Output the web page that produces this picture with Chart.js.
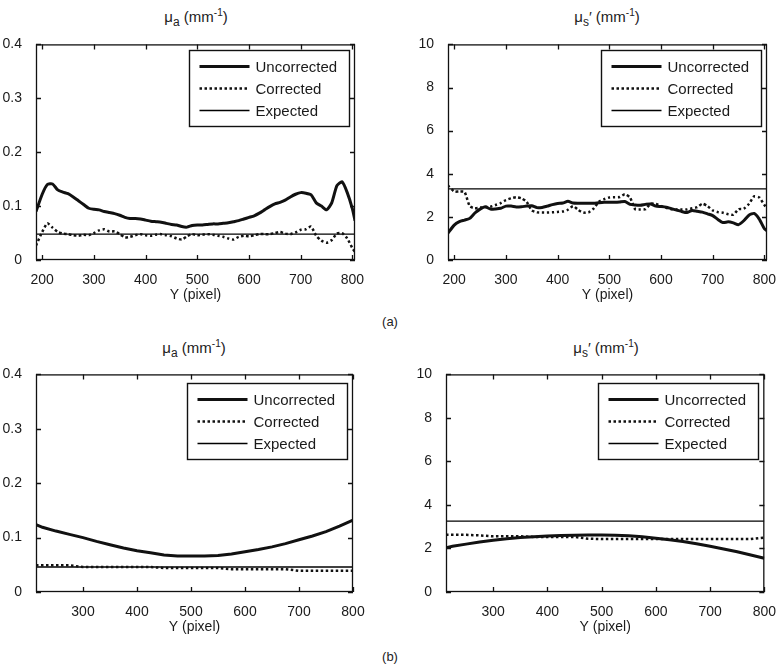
<!DOCTYPE html>
<html>
<head>
<meta charset="utf-8">
<script src="https://cdn.jsdelivr.net/npm/chart.js@4.4.1/dist/chart.umd.min.js"></script>
<style>
  body { margin: 0; background: #fff; width: 781px; height: 666px; overflow: hidden; position: relative;
         font-family: "Liberation Sans", Arial, sans-serif; color: #222; }
  .panel { position: absolute; }
  .ttl { position: absolute; font-size: 15px; line-height: 18px; transform: translateX(-50%); white-space: nowrap; }
  .ttl sub { font-size: 12px; vertical-align: -4px; line-height: 0; }
  .ttl sup { font-size: 10px; vertical-align: 6px; line-height: 0; }
  .tag { position: absolute; font-size: 13px; transform: translateX(-50%); }
</style>
</head>
<body>
<div class="ttl" style="left:196px;top:8px">&mu;<sub>a</sub> (mm<sup>-1</sup>)</div>
<div class="ttl" style="left:607px;top:8px">&mu;<sub>s</sub>&prime; (mm<sup>-1</sup>)</div>
<div class="ttl" style="left:194px;top:339px">&mu;<sub>a</sub> (mm<sup>-1</sup>)</div>
<div class="ttl" style="left:606px;top:339px">&mu;<sub>s</sub>&prime; (mm<sup>-1</sup>)</div>
<div class="tag" style="left:390px;top:314px">(a)</div>
<div class="tag" style="left:390px;top:649px">(b)</div>

<div class="panel" style="left:0;top:30px"><canvas id="aMua" width="371" height="274"></canvas></div>
<div class="panel" style="left:404px;top:30px"><canvas id="aMus" width="377" height="274"></canvas></div>
<div class="panel" style="left:0;top:360px"><canvas id="bMua" width="369" height="276"></canvas></div>
<div class="panel" style="left:404px;top:360px"><canvas id="bMus" width="376" height="276"></canvas></div>

<script>
// (a) measured profiles, Y pixel positions
const xTop = [188, 200, 210, 220, 230, 240, 250, 260, 270, 280, 290, 300, 310, 320, 330, 340, 350, 360, 370, 380,
  390, 400, 410, 420, 430, 440, 450, 460, 470, 480, 490, 500, 510, 520, 530, 540, 550, 560, 570, 580,
  590, 600, 610, 620, 630, 640, 650, 660, 670, 680, 690, 700, 710, 720, 730, 740, 750, 760, 770, 780,
  790, 800, 805];

const aMuaUnc = [0.090, 0.122, 0.140, 0.141, 0.130, 0.126, 0.123, 0.117, 0.110, 0.103, 0.096, 0.094, 0.093, 0.090, 0.088, 0.086, 0.083, 0.079, 0.077, 0.077,
  0.076, 0.074, 0.072, 0.071, 0.070, 0.068, 0.066, 0.065, 0.062, 0.061, 0.064, 0.065, 0.065, 0.066, 0.067, 0.067, 0.068, 0.069, 0.071, 0.073,
  0.076, 0.079, 0.082, 0.087, 0.093, 0.099, 0.104, 0.107, 0.111, 0.117, 0.122, 0.125, 0.124, 0.121, 0.106, 0.100, 0.093, 0.106, 0.138, 0.145,
  0.125, 0.095, 0.073];
const aMuaCor = [0.027, 0.052, 0.068, 0.060, 0.052, 0.049, 0.048, 0.046, 0.045, 0.047, 0.046, 0.050, 0.055, 0.057, 0.053, 0.053, 0.048, 0.042, 0.043, 0.046,
  0.048, 0.046, 0.045, 0.047, 0.048, 0.046, 0.044, 0.040, 0.038, 0.044, 0.048, 0.046, 0.047, 0.048, 0.047, 0.045, 0.043, 0.040, 0.038, 0.043,
  0.045, 0.044, 0.046, 0.048, 0.048, 0.048, 0.050, 0.052, 0.049, 0.048, 0.051, 0.056, 0.057, 0.062, 0.045, 0.036, 0.032, 0.037, 0.049, 0.050,
  0.040, 0.022, 0.015];
const aMusUnc = [1.25, 1.62, 1.78, 1.85, 1.93, 2.18, 2.36, 2.47, 2.36, 2.37, 2.40, 2.50, 2.50, 2.46, 2.47, 2.50, 2.52, 2.43, 2.44, 2.50,
  2.57, 2.62, 2.64, 2.72, 2.64, 2.63, 2.63, 2.63, 2.63, 2.66, 2.68, 2.68, 2.68, 2.69, 2.71, 2.58, 2.55, 2.54, 2.58, 2.60,
  2.50, 2.48, 2.45, 2.38, 2.32, 2.25, 2.20, 2.30, 2.26, 2.22, 2.14, 2.06, 1.88, 1.74, 1.77, 1.72, 1.64, 1.82, 2.08, 2.16,
  1.90, 1.45, 1.35];
const aMusCor = [3.45, 3.18, 3.18, 3.16, 2.50, 2.40, 2.43, 2.45, 2.47, 2.55, 2.64, 2.78, 2.86, 2.91, 2.86, 2.70, 2.30, 2.21, 2.20, 2.20,
  2.21, 2.23, 2.25, 2.33, 2.50, 2.32, 2.20, 2.21, 2.40, 2.70, 2.82, 2.90, 2.91, 2.92, 3.05, 2.90, 2.36, 2.34, 2.36, 2.61,
  2.60, 2.50, 2.42, 2.36, 2.34, 2.34, 2.34, 2.40, 2.45, 2.61, 2.50, 2.30, 2.22, 2.19, 2.12, 2.10, 2.36, 2.38, 2.60, 2.95,
  2.90, 2.55, 2.40];

// (b) fitted profiles
const xBot = [213, 225, 250, 275, 300, 325, 350, 375, 400, 425, 450, 475, 500, 525, 550, 575, 600, 625, 650, 675, 700, 725, 750, 775, 800];
const bMuaUnc = [0.124, 0.119, 0.112, 0.106, 0.100, 0.093, 0.087, 0.081, 0.076, 0.072, 0.068, 0.066, 0.066, 0.066, 0.067, 0.070, 0.074, 0.078, 0.083, 0.089, 0.096, 0.103, 0.111, 0.121, 0.132];
const bMuaCor = [0.049, 0.049, 0.049, 0.049, 0.046, 0.046, 0.046, 0.046, 0.046, 0.046, 0.044, 0.044, 0.044, 0.044, 0.044, 0.042, 0.042, 0.042, 0.042, 0.042, 0.039, 0.039, 0.039, 0.039, 0.039];
const bMusUnc = [2.03, 2.10, 2.20, 2.30, 2.38, 2.45, 2.50, 2.54, 2.57, 2.60, 2.61, 2.62, 2.62, 2.61, 2.58, 2.54, 2.47, 2.40, 2.32, 2.22, 2.10, 1.98, 1.85, 1.70, 1.55];
const bMusCor = [2.63, 2.63, 2.63, 2.60, 2.56, 2.56, 2.56, 2.53, 2.53, 2.53, 2.53, 2.45, 2.43, 2.43, 2.43, 2.43, 2.43, 2.43, 2.43, 2.43, 2.43, 2.43, 2.43, 2.43, 2.50];

// expected (reference) values, drawn across each x range
const expTopX = [188, 805];
const expBotX = [213, 800];
const expMuaTop = [0.048, 0.048];
const expMusTop = [3.30, 3.30];
const expMuaBot = [0.046, 0.046];
const expMusBot = [3.26, 3.26];

// ticks
const xTicksTop = [200, 300, 400, 500, 600, 700, 800];
const xTicksBot = [300, 400, 500, 600, 700, 800];
const yTicksMua = [0, 0.1, 0.2, 0.3, 0.4];
const yTicksMus = [0, 2, 4, 6, 8, 10];

const labels = ["Uncorrected", "Corrected", "Expected"];
const FONT = '"Liberation Sans", Arial, sans-serif';

const toPoints = (xs, ys) => xs.map((x, i) => ({ x: x, y: ys[i] }));

// MATLAB style box, inward ticks and boxed legend
const matlabFrame = {
  id: "matlabFrame",
  afterDatasetsDraw(chart, args, opts) {
    const { ctx, chartArea: a, scales } = chart;
    ctx.save();
    ctx.strokeStyle = "#111";
    ctx.lineWidth = 1.3;
    ctx.strokeRect(a.left + 0.5, a.top + 0.5, a.width - 1, a.height - 1);
    const len = 5;
    ctx.beginPath();
    scales.x.ticks.forEach((t) => {
      const px = Math.round(scales.x.getPixelForValue(t.value)) + 0.5;
      ctx.moveTo(px, a.bottom); ctx.lineTo(px, a.bottom - len);
      ctx.moveTo(px, a.top); ctx.lineTo(px, a.top + len);
    });
    scales.y.ticks.forEach((t) => {
      const py = Math.round(scales.y.getPixelForValue(t.value)) + 0.5;
      ctx.moveTo(a.left, py); ctx.lineTo(a.left + len, py);
      ctx.moveTo(a.right, py); ctx.lineTo(a.right - len, py);
    });
    ctx.stroke();

    // legend box
    const w = opts.width, h = opts.height;
    const bx = Math.round(a.right - opts.right - w) + 0.5;
    const by = Math.round(a.top + opts.top) + 0.5;
    ctx.fillStyle = "#fff";
    ctx.fillRect(bx, by, w, h);
    ctx.lineWidth = 1.4;
    ctx.strokeRect(bx, by, w, h);
    ctx.font = "15px " + FONT;
    ctx.textBaseline = "middle";
    chart.data.datasets.forEach((ds, i) => {
      const ry = Math.round(by + 15 + i * 22) + 0.5;
      ctx.save();
      ctx.strokeStyle = ds.borderColor;
      ctx.lineWidth = ds.borderWidth;
      ctx.setLineDash(ds.borderDash || []);
      ctx.beginPath();
      ctx.moveTo(bx + 10, ry);
      ctx.lineTo(bx + 60, ry);
      ctx.stroke();
      ctx.restore();
      ctx.fillStyle = "#1a1a1a";
      ctx.fillText(ds.label, bx + 66, ry + 1);
    });
    ctx.restore();
  },
};

const makePanel = (id, cfg) => {
  return new Chart(document.getElementById(id), {
    type: "line",
    data: {
      datasets: [
        { label: labels[0], data: toPoints(cfg.xs, cfg.unc), borderColor: "#111", borderWidth: 3, borderDash: [] },
        { label: labels[1], data: toPoints(cfg.xs, cfg.cor), borderColor: "#111", borderWidth: 2.5, borderDash: [2.5, 2.5] },
        { label: labels[2], data: toPoints(cfg.expX, cfg.exp), borderColor: "#000", borderWidth: 1.3, borderDash: [] },
      ],
    },
    plugins: [matlabFrame],
    options: {
      responsive: false,
      devicePixelRatio: 1,
      animation: false,
      events: [],
      elements: { point: { radius: 0 }, line: { tension: cfg.tension, borderCapStyle: "butt" } },
      layout: { padding: { top: 12, right: cfg.padRight, left: 0, bottom: 0 } },
      scales: {
        x: {
          type: "linear",
          min: cfg.xMin,
          max: cfg.xMax,
          afterBuildTicks: (scale) => { scale.ticks = cfg.xTicks.map((v) => ({ value: v })); },
          afterFit: (scale) => { scale.height = 44; },
          grid: { display: false },
          border: { display: false },
          ticks: { padding: 4, maxRotation: 0, autoSkip: false, color: "#1a1a1a", font: { family: FONT, size: 14 } },
          title: { display: true, text: "Y (pixel)", color: "#1a1a1a", padding: { top: 2, bottom: 0 }, font: { family: FONT, size: 14 } },
        },
        y: {
          min: cfg.yTicks[0],
          max: cfg.yTicks[cfg.yTicks.length - 1],
          afterBuildTicks: (scale) => { scale.ticks = cfg.yTicks.map((v) => ({ value: v })); },
          afterFit: (scale) => { scale.width = cfg.yWidth; },
          grid: { display: false },
          border: { display: false },
          ticks: { padding: 6, color: "#1a1a1a", font: { family: FONT, size: 14 } },
        },
      },
      plugins: {
        legend: { display: false },
        tooltip: { enabled: false },
        matlabFrame: { top: cfg.legTop, right: 6, width: 160, height: 76 },
      },
    },
  });
};

makePanel("aMua", { xs: xTop, unc: aMuaUnc, cor: aMuaCor, expX: expTopX, exp: expMuaTop, xMin: 188, xMax: 805,
  xTicks: xTicksTop, yTicks: yTicksMua, yWidth: 36, padRight: 16, legTop: 6, tension: 0.2 });
makePanel("aMus", { xs: xTop, unc: aMusUnc, cor: aMusCor, expX: expTopX, exp: expMusTop, xMin: 188, xMax: 805,
  xTicks: xTicksTop, yTicks: yTicksMus, yWidth: 44, padRight: 14, legTop: 6, tension: 0.2 });
makePanel("bMua", { xs: xBot, unc: bMuaUnc, cor: bMuaCor, expX: expBotX, exp: expMuaBot, xMin: 213, xMax: 800,
  xTicks: xTicksBot, yTicks: yTicksMua, yWidth: 36, padRight: 16, legTop: 9, tension: 0 });
makePanel("bMus", { xs: xBot, unc: bMusUnc, cor: bMusCor, expX: expBotX, exp: expMusBot, xMin: 213, xMax: 800,
  xTicks: xTicksBot, yTicks: yTicksMus, yWidth: 42, padRight: 14, legTop: 9, tension: 0 });
</script>
</body>
</html>
